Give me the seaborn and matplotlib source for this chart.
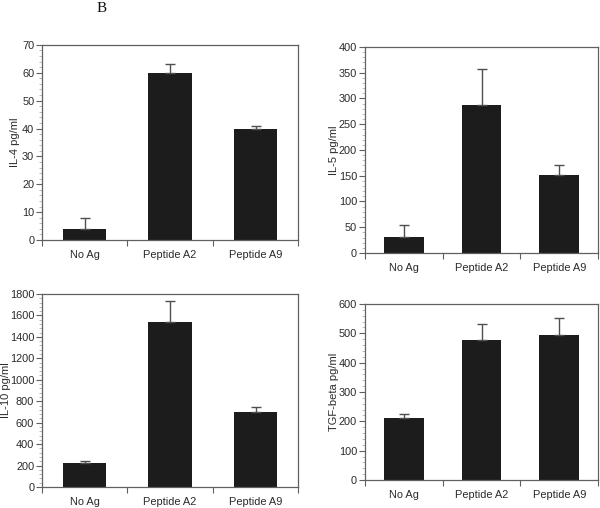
import numpy as np
import pandas as pd
import matplotlib
matplotlib.use('Agg')
import matplotlib.pyplot as plt
import seaborn as sns
from matplotlib.ticker import AutoMinorLocator, FixedLocator, NullFormatter

groups = ['No Ag', 'Peptide A2', 'Peptide A9']

il4 = [4, 60, 40]
il4_err = [4, 3, 1]
il5 = [31, 288, 151]
il5_err = [23, 70, 20]
il10 = [224, 1537, 696]
il10_err = [18, 202, 49]
tgf = [212, 477, 494]
tgf_err = [13, 54, 57]

sns.set_style('white')
plt.rcParams['font.family'] = ['Liberation Sans', 'DejaVu Sans']

fig = plt.figure(figsize=(6, 5.08), dpi=100)

panels = [
    # values, errors, ylabel, ymax, step, axes rect, label x (axes fraction)
    (il4, il4_err, 'IL-4 pg/ml', 70, 10, [0.070, 0.5276, 0.427, 0.384], -0.105),
    (il5, il5_err, 'IL-5 pg/ml', 400, 50, [0.608, 0.502, 0.389, 0.4055], -0.13),
    (il10, il10_err, 'IL-10 pg/ml', 1800, 200, [0.070, 0.0413, 0.427, 0.380], -0.14),
    (tgf, tgf_err, 'TGF-beta pg/ml', 600, 100, [0.608, 0.0551, 0.389, 0.3465], -0.13),
]

txt = '#2b2b2b'
spine = '#606060'

for vals, errs, ylab, ymax, step, rect, labx in panels:
    ax = fig.add_axes(rect)
    df = pd.DataFrame({'group': groups, 'value': vals})
    sns.barplot(data=df, x='group', y='value', color='#1c1c1c', width=0.51,
                saturation=1, errorbar=None, ax=ax, linewidth=0)
    ax.errorbar(np.arange(len(groups)), vals, yerr=[np.zeros(len(errs)), errs],
                fmt='none', ecolor='#505050', elinewidth=1.0, capsize=3.5,
                capthick=1.0, zorder=1)
    ax.set_xlim(-0.5, 2.5)
    ax.set_ylim(0, ymax)
    ax.set_yticks(np.arange(0, ymax + 1, step))
    ax.yaxis.set_minor_locator(AutoMinorLocator(5))
    ax.xaxis.set_major_locator(FixedLocator([0, 1, 2]))
    ax.xaxis.set_minor_locator(FixedLocator([-0.5, 0.5, 1.5, 2.5]))
    ax.xaxis.set_minor_formatter(NullFormatter())
    ax.set_xticklabels(groups)
    ax.tick_params(axis='x', which='major', length=0, pad=7, labelsize=7.9,
                   labelcolor=txt)
    ax.tick_params(axis='x', which='minor', length=4, color=spine, width=0.8,
                   direction='out', bottom=True)
    ax.tick_params(axis='y', which='major', length=4, color=spine, width=0.8,
                   direction='out', left=True, labelsize=7.9, labelcolor=txt,
                   pad=1.5)
    ax.tick_params(axis='y', which='minor', length=2, color='#a0a0a0',
                   width=0.5, direction='out', left=True)
    ax.set_xlabel('')
    ax.set_ylabel(ylab, fontsize=8, color=txt)
    ax.yaxis.label.set_va('center')
    ax.yaxis.set_label_coords(labx, 0.5)
    for s in ax.spines.values():
        s.set_visible(True)
        s.set_color(spine)
        s.set_linewidth(0.9)

fig.text(0.17, 0.983, 'B', fontsize=11, family=['Liberation Serif'],
         ha='center', va='center', color='#111111')

fig.savefig('out.png', dpi=100)
